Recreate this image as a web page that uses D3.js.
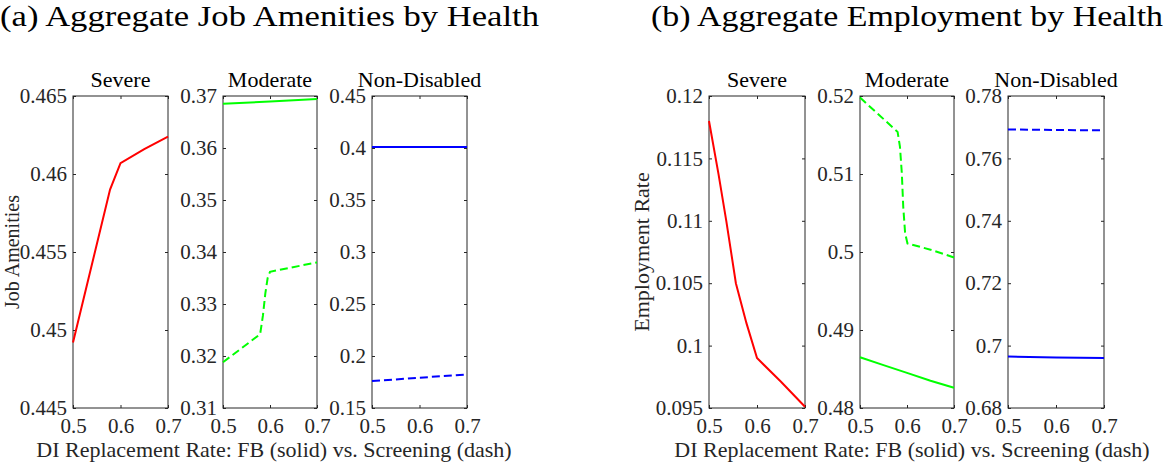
<!DOCTYPE html>
<html><head><meta charset="utf-8">
<script src="https://cdn.jsdelivr.net/npm/d3@7"></script>
<style>
body{margin:0;background:#fff;}
svg{display:block;}
text{font-family:"Liberation Serif","Times New Roman",serif;}
</style>
</head><body>
<svg id="c" width="1166" height="463"></svg>
<script>
// ---------- data ----------
const xTicks = [0.5, 0.6, 0.7];
const panelNames = ["Severe", "Moderate", "Non-Disabled"];
const figTitles = ["(a) Aggregate Job Amenities by Health", "(b) Aggregate Employment by Health"];
const yAxisLabels = ["Job Amenities", "Employment Rate"];
const xAxisLabel = "DI Replacement Rate: FB (solid) vs. Screening (dash)";

// y tick values per panel
const amenSevereTicks   = [0.445, 0.45, 0.455, 0.46, 0.465];
const amenModerateTicks = [0.31, 0.32, 0.33, 0.34, 0.35, 0.36, 0.37];
const amenNonDisTicks   = [0.15, 0.2, 0.25, 0.3, 0.35, 0.4, 0.45];
const empSevereTicks    = [0.095, 0.1, 0.105, 0.11, 0.115, 0.12];
const empModerateTicks  = [0.48, 0.49, 0.5, 0.51, 0.52];
const empNonDisTicks    = [0.68, 0.7, 0.72, 0.74, 0.76, 0.78];

// (a) job amenities
const amenSevereFB_x = [0.5, 0.578, 0.6, 0.65, 0.7];
const amenSevereFB_y = [0.4492, 0.4590, 0.4607, 0.4616, 0.4624];
const amenModFB_x = [0.5, 0.6, 0.7];
const amenModFB_y = [0.3685, 0.36895, 0.3694];
const amenModScr_x = [0.5, 0.579, 0.585, 0.59, 0.595, 0.6, 0.7];
const amenModScr_y = [0.3188, 0.3242, 0.3278, 0.3320, 0.3350, 0.3362, 0.3380];
const amenNDFB_x = [0.5, 0.6, 0.7];
const amenNDFB_y = [0.4010, 0.4010, 0.4010];
const amenNDScr_x = [0.5, 0.6, 0.7];
const amenNDScr_y = [0.1759, 0.1791, 0.1823];

// (b) employment
const empSevereFB_x = [0.5, 0.52, 0.536, 0.556, 0.578, 0.6, 0.65, 0.7];
const empSevereFB_y = [0.1180, 0.1137, 0.1100, 0.1050, 0.1018, 0.0990, 0.0971, 0.0951];
const empModFB_x = [0.5, 0.55, 0.6, 0.65, 0.7];
const empModFB_y = [0.4865, 0.4855, 0.4845, 0.4835, 0.4826];
const empModScr_x = [0.5, 0.58, 0.585, 0.589, 0.592, 0.596, 0.601, 0.65, 0.7];
const empModScr_y = [0.5198, 0.5154, 0.5135, 0.5101, 0.5058, 0.5024, 0.5011, 0.5003, 0.4993];
const empNDFB_x = [0.5, 0.6, 0.7];
const empNDFB_y = [0.6965, 0.6962, 0.6960];
const empNDScr_x = [0.5, 0.6, 0.7];
const empNDScr_y = [0.7693, 0.7691, 0.7690];

// ---------- layout / style ----------
const healthColors = ["#ff0000", "#00ff00", "#0000ff"];
const axisColor = "#262626";
const plotTop = 96, plotBottom = 408;
const panelX = [[73,168],[223,317],[372,467],[709,805],[860,954],[1008,1104]];
const tickFs = 21, labelFs = 22, yLabelFs = 20;

const zip = (xs, ys) => xs.map((x, i) => ({x, y: ys[i]}));
const panels = [
  {ticks: amenSevereTicks,   name: 0, series: [{d: zip(amenSevereFB_x, amenSevereFB_y), dash: false}]},
  {ticks: amenModerateTicks, name: 1, series: [{d: zip(amenModFB_x, amenModFB_y), dash: false}, {d: zip(amenModScr_x, amenModScr_y), dash: true}]},
  {ticks: amenNonDisTicks,   name: 2, series: [{d: zip(amenNDFB_x, amenNDFB_y), dash: false}, {d: zip(amenNDScr_x, amenNDScr_y), dash: true}]},
  {ticks: empSevereTicks,    name: 0, series: [{d: zip(empSevereFB_x, empSevereFB_y), dash: false}]},
  {ticks: empModerateTicks,  name: 1, series: [{d: zip(empModFB_x, empModFB_y), dash: false}, {d: zip(empModScr_x, empModScr_y), dash: true}]},
  {ticks: empNonDisTicks,    name: 2, series: [{d: zip(empNDFB_x, empNDFB_y), dash: false}, {d: zip(empNDScr_x, empNDScr_y), dash: true}]}
];

const svg = d3.select("#c");
const fmt = v => String(+v.toFixed(4));

panels.forEach((p, i) => {
  const [x0, x1] = panelX[i];
  const x = d3.scaleLinear().domain([xTicks[0], xTicks[xTicks.length-1]]).range([x0, x1]);
  const y = d3.scaleLinear().domain([p.ticks[0], p.ticks[p.ticks.length-1]]).range([plotBottom, plotTop]);
  const g = svg.append("g");

  const styleAxis = sel => {
    sel.attr("font-family", null).attr("font-size", null);
    sel.select(".domain").remove();
    sel.selectAll("line").attr("stroke", axisColor);
    sel.selectAll("text").attr("fill", axisColor).style("font-size", tickFs + "px");
  };
  g.append("g").attr("transform", `translate(${x0},0)`)
    .call(d3.axisLeft(y).tickValues(p.ticks).tickSize(-3).tickPadding(6).tickFormat(fmt)).call(styleAxis);
  g.append("g").attr("transform", `translate(${x1},0)`)
    .call(d3.axisRight(y).tickValues(p.ticks).tickSize(-3).tickFormat("")).call(styleAxis);
  g.append("g").attr("transform", `translate(0,${plotBottom})`)
    .call(d3.axisBottom(x).tickValues(xTicks).tickSize(-3).tickPadding(10).tickFormat(d3.format(".1f"))).call(styleAxis);
  g.append("g").attr("transform", `translate(0,${plotTop})`)
    .call(d3.axisTop(x).tickValues(xTicks).tickSize(-3).tickFormat("")).call(styleAxis);

  g.append("rect").attr("x", x0).attr("y", plotTop).attr("width", x1 - x0).attr("height", plotBottom - plotTop)
    .attr("fill", "none").attr("stroke", axisColor).attr("stroke-width", 1);

  const line = d3.line().x(d => x(d.x)).y(d => y(d.y));
  p.series.forEach(s => {
    g.append("path").datum(s.d).attr("d", line)
      .attr("fill", "none").attr("stroke", healthColors[p.name]).attr("stroke-width", 2)
      .attr("stroke-dasharray", s.dash ? "8,4" : null);
  });

  g.append("text").attr("x", (x0 + x1) / 2).attr("y", 87).attr("text-anchor", "middle")
    .style("font-size", labelFs + "px").attr("fill", "#000").text(panelNames[p.name]);
});

// figure titles
svg.append("text").attr("x", 0).attr("y", 26).style("font-size", "29px")
  .attr("textLength", 539).attr("lengthAdjust", "spacingAndGlyphs").text(figTitles[0]);
svg.append("text").attr("x", 651).attr("y", 26).style("font-size", "29px")
  .attr("textLength", 512).attr("lengthAdjust", "spacingAndGlyphs").text(figTitles[1]);

// y labels
svg.append("text").attr("transform", "translate(18.5,252) rotate(-90)").attr("text-anchor", "middle")
  .style("font-size", yLabelFs + "px").attr("fill", axisColor).text(yAxisLabels[0]);
svg.append("text").attr("transform", "translate(649,252) rotate(-90)").attr("text-anchor", "middle")
  .style("font-size", labelFs + "px").attr("fill", axisColor).text(yAxisLabels[1]);

// x labels
svg.append("text").attr("x", 274).attr("y", 457).attr("text-anchor", "middle")
  .style("font-size", labelFs + "px").attr("fill", axisColor).text(xAxisLabel);
svg.append("text").attr("x", 912).attr("y", 457).attr("text-anchor", "middle")
  .style("font-size", labelFs + "px").attr("fill", axisColor).text(xAxisLabel);
</script>
</body></html>
